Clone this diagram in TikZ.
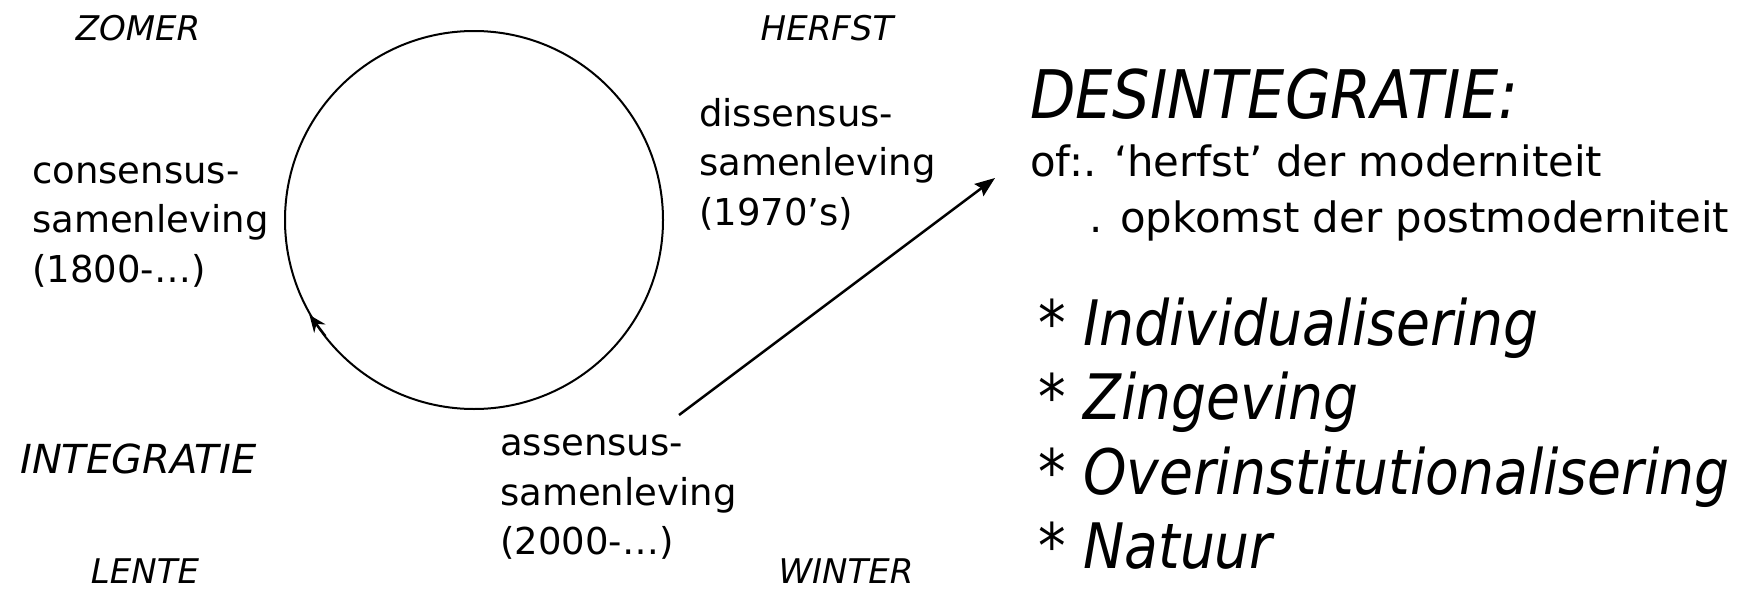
\documentclass[tikz,border=0pt]{standalone}
\usepackage{fontspec}
\setmainfont{DejaVu Sans}
\newfontfamily\condsans{DejaVu Sans}[FakeStretch=0.88]
\usetikzlibrary{arrows.meta,calc}
\begin{document}
\begin{tikzpicture}[x=1pt,y=-1pt,
  body/.style={anchor=base west,inner sep=0pt,font=\fontsize{37}{44}\selectfont},
  season/.style={anchor=base,inner sep=0pt,font=\fontsize{34}{40}\selectfont\itshape},
  headline/.style={anchor=base west,inner sep=0pt,font=\condsans\fontsize{67}{78}\selectfont\itshape},
  subline/.style={anchor=base west,inner sep=0pt,font=\fontsize{41.8}{50}\selectfont},
  item/.style={anchor=base west,inner sep=0pt,font=\condsans\fontsize{62.7}{74}\selectfont\itshape},
  conn/.style={line width=2.5pt,-{Stealth[length=20pt,width=15pt,inset=3pt]}}]
\useasboundingbox (0,0) rectangle (1751,589);

% seasons
\node[season] (zomer) at (138,40) {ZOMER};
\node[season] (herfst) at (827,40) {HERFST};
\node[season] (lente) at (145,583) {LENTE};
\node[season] (winter) at (846,583) {WINTER};
\node[anchor=base west,inner sep=0pt,font=\fontsize{40}{48}\selectfont\itshape] (integ) at (20,473) {INTEGRATIE};

% cycle
\node[draw,circle,minimum size=378pt,inner sep=0pt,line width=2pt] (cyc) at (474,220) {};
\coordinate (tipA) at (cyc.210);
\coordinate (tailA) at ($(tipA)+(16,21)$);
\draw[line width=2.2pt,-{Stealth[length=17pt,width=14pt]}] (tailA) -- (tipA);

% consensus
\node[body] (c1) at (32,183) {consensus-};
\node[body] (c2) at (32,232.5) {samenleving};
\node[body] (c3) at (32,282) {(1800-…)};

% dissensus
\node[body] (d1) at (699,126) {dissensus-};
\node[body] (d2) at (699,175.5) {samenleving};
\node[body] (d3) at (699,225) {(1970’s)};

% assensus
\node[body] (a1) at (500,455) {assensus-};
\node[body] (a2) at (500,505) {samenleving};
\node[body] (a3) at (500,554.5) {(2000-…)};

% right block
\node[headline] (des) at (1030,118) {DESINTEGRATIE:};
\node[subline] (of) at (1030,176) {of:. ‘herfst’ der moderniteit};
\node[subline] (opk) at (1089,232) {. opkomst der postmoderniteit};
\node[item] (i1) at (1038,345) {* Individualisering};
\node[item] (i2) at (1038,419.5) {* Zingeving};
\node[item] (i3) at (1038,494) {* Overinstitutionalisering};
\node[item] (i4) at (1038,568.5) {* Natuur};

% big arrow
\coordinate (arrS) at (679,415);
\coordinate (arrE) at (995,178);
\draw[conn] (arrS) -- (arrE);
\end{tikzpicture}
\end{document}
